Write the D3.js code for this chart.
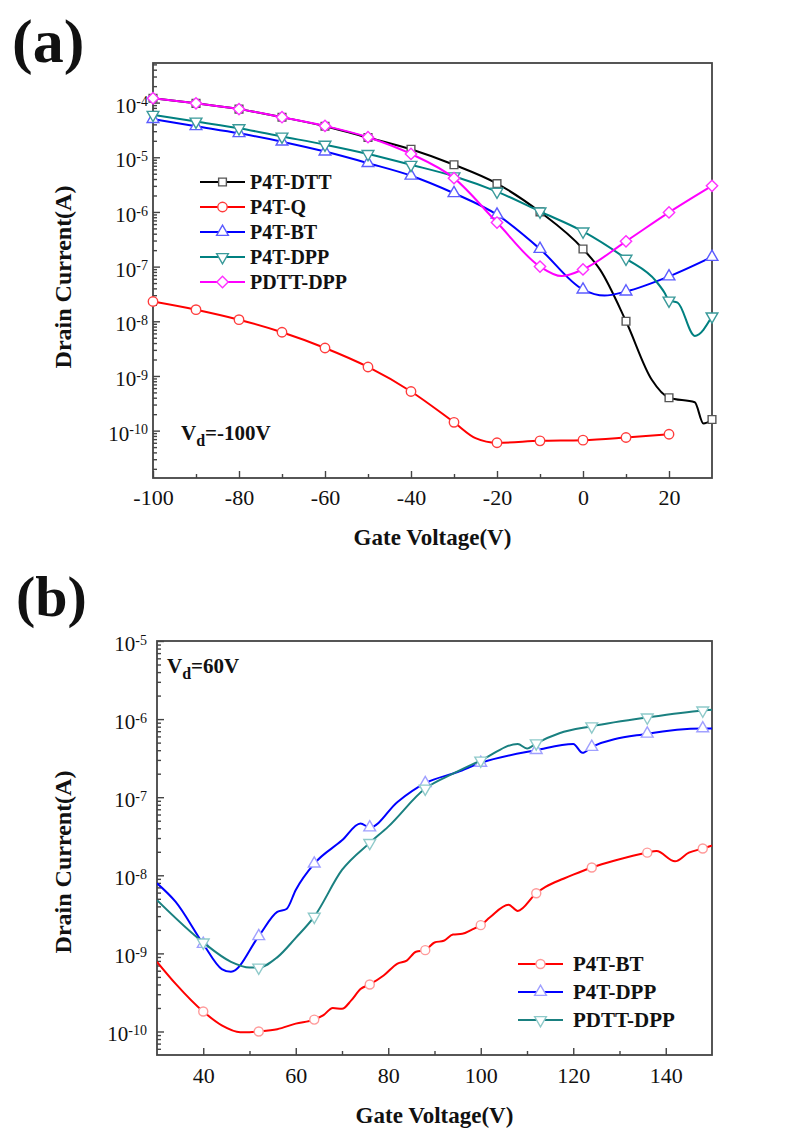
<!DOCTYPE html>
<html>
<head>
<meta charset="utf-8">
<script src="https://cdn.jsdelivr.net/npm/d3@7"></script>
<style>
  body { margin: 0; background: #fff; }
  svg text { font-family: "Liberation Serif", "Times New Roman", serif; fill: #111; }
</style>
</head>
<body>
<svg id="chart" width="809" height="1140"></svg>
<script>
// ---- Panel (a): Vd = -100 V ----
const aMarkGate = [-100, -90, -80, -70, -60, -50, -40, -30, -20, -10, 0, 10, 20, 30];

const aGate_DTT = [-100, -90, -80, -70, -60, -50, -40, -30, -20, -10, 0, 4, 10, 16, 20, 26, 28, 30];
const aCur_DTT  = [1.2e-4, 9.7e-5, 7.6e-5, 5.4e-5, 3.7e-5, 2.3e-5, 1.4e-5, 7.3e-6, 3.3e-6, 1.0e-6, 2.1e-7, 8.7e-8, 1.0e-8, 8.5e-10, 4.0e-10, 3.3e-10, 1.35e-10, 1.6e-10];

const aGate_Q = [-100, -90, -80, -70, -60, -50, -40, -30, -25, -20, -10, 0, 10, 20];
const aCur_Q  = [2.3e-8, 1.63e-8, 1.07e-8, 6.3e-9, 3.25e-9, 1.46e-9, 5.2e-10, 1.42e-10, 7.3e-11, 6.0e-11, 6.5e-11, 6.7e-11, 7.5e-11, 8.6e-11];

const aGate_BT = [-100, -90, -80, -70, -60, -50, -40, -30, -20, -10, 0, 5, 10, 20, 30];
const aCur_BT  = [5.0e-5, 3.7e-5, 2.75e-5, 1.93e-5, 1.27e-5, 7.8e-6, 4.6e-6, 2.2e-6, 8.9e-7, 2.1e-7, 3.8e-8, 2.95e-8, 3.5e-8, 6.6e-8, 1.5e-7];

const aGate_DPP = [-100, -90, -80, -70, -60, -50, -40, -30, -20, -10, 0, 10, 17, 19, 20, 22, 26, 30];
const aCur_DPP  = [6.0e-5, 4.5e-5, 3.4e-5, 2.4e-5, 1.7e-5, 1.15e-5, 7.3e-6, 4.5e-6, 2.35e-6, 1.02e-6, 4.4e-7, 1.4e-7, 5.4e-8, 3.3e-8, 2.4e-8, 2.2e-8, 5.4e-9, 1.23e-8];

const aGate_PDTT = [-100, -90, -80, -70, -60, -50, -40, -30, -20, -10, -5, 0, 10, 20, 30];
const aCur_PDTT  = [1.2e-4, 9.7e-5, 7.6e-5, 5.4e-5, 3.75e-5, 2.33e-5, 1.15e-5, 4.15e-6, 6.4e-7, 1.0e-7, 6.7e-8, 8.9e-8, 2.9e-7, 9.8e-7, 3.0e-6];

const aXTicks = [-100, -80, -60, -40, -20, 0, 20];
const aXMinor = [-90, -70, -50, -30, -10, 10];
const aYTicks = [1e-10, 1e-9, 1e-8, 1e-7, 1e-6, 1e-5, 1e-4];

// ---- Panel (b): Vd = 60 V ----
const bMarkGate = [40, 52, 64, 76, 88, 100, 112, 124, 136, 148];

const bGate_BT = [30, 34, 40, 44, 48, 50, 52, 56, 60, 64, 66, 68, 70, 72, 74, 76, 79, 82, 84, 86, 88, 90, 92, 94, 96, 98, 100, 102, 106, 108, 112, 114, 118, 120, 124, 129, 136, 138, 142, 145, 148, 150];
const bCur_BT  = [7.8e-10, 4.1e-10, 1.8e-10, 1.2e-10, 9.8e-11, 9.8e-11, 1.0e-10, 1.07e-10, 1.26e-10, 1.42e-10, 1.62e-10, 2.0e-10, 1.95e-10, 2.5e-10, 3.5e-10, 4.0e-10, 5.2e-10, 7.4e-10, 8.1e-10, 1.05e-9, 1.1e-9, 1.38e-9, 1.45e-9, 1.74e-9, 1.78e-9, 2.0e-9, 2.3e-9, 2.9e-9, 4.2e-9, 3.5e-9, 5.9e-9, 7.1e-9, 9.1e-9, 1.02e-8, 1.26e-8, 1.55e-8, 1.95e-8, 2.04e-8, 1.51e-8, 1.95e-8, 2.2e-8, 2.4e-8];

const bGate_DPP = [30, 34, 40, 44, 46, 52, 56, 58, 60, 64, 70, 74, 76, 82, 88, 95, 100, 112, 120, 122, 124, 136, 148, 150];
const bCur_DPP  = [7.9e-9, 4.6e-9, 1.32e-9, 6.3e-10, 5.8e-10, 1.66e-9, 3.4e-9, 3.7e-9, 6.5e-9, 1.41e-8, 2.8e-8, 4.6e-8, 4.1e-8, 8.7e-8, 1.51e-7, 2.1e-7, 2.75e-7, 4.0e-7, 4.8e-7, 3.7e-7, 4.4e-7, 6.5e-7, 7.6e-7, 7.6e-7];

const bGate_PDTT = [30, 40, 46, 50, 52, 56, 60, 64, 70, 76, 80, 88, 94, 100, 108, 110, 112, 117, 124, 136, 148, 150];
const bCur_PDTT  = [4.8e-9, 1.38e-9, 7.8e-10, 6.6e-10, 6.6e-10, 8.9e-10, 1.58e-9, 2.95e-9, 1.17e-8, 2.6e-8, 4.2e-8, 1.29e-7, 2.0e-7, 2.95e-7, 4.8e-7, 4.2e-7, 4.9e-7, 6.6e-7, 8.1e-7, 1.05e-6, 1.29e-6, 1.32e-6];

const bXTicks = [40, 60, 80, 100, 120, 140];
const bXMinor = [50, 70, 90, 110, 130];
const bYTicks = [1e-10, 1e-9, 1e-8, 1e-7, 1e-6, 1e-5];

const zip = (xs, ys) => xs.map((x, i) => ({ x: x, y: ys[i] }));

const svg = d3.select("#chart");

// marker shapes
function markerPath(shape, size) {
    if (shape === "circle") return d3.symbol().type(d3.symbolCircle).size(size)();
    if (shape === "up" || shape === "down") return d3.symbol().type(d3.symbolTriangle).size(size)();
    return d3.symbol().type(d3.symbolSquare).size(size)();
}
function markerRotate(shape) {
    if (shape === "down") return 180;
    if (shape === "diamond") return 45;
    return 0;
}

function minorLogTicks(domain) {
    const out = [];
    const lo = Math.floor(Math.log10(domain[0])), hi = Math.ceil(Math.log10(domain[1]));
    for (let k = lo; k <= hi; k++) {
        for (let m = 2; m <= 9; m++) {
            const v = m * Math.pow(10, k);
            if (v > domain[0] && v < domain[1]) out.push(v);
        }
    }
    return out;
}

function drawPanel(cfg) {
    const g = svg.append("g");
    const x = d3.scaleLinear().domain(cfg.xDomain).range([cfg.left, cfg.right]);
    const y = d3.scaleLog().domain(cfg.yDomain).range([cfg.bottom, cfg.top]);

    // ---- minor ticks ----
    g.append("g")
        .attr("transform", `translate(0,${cfg.bottom})`)
        .call(d3.axisBottom(x).tickValues(cfg.xMinor).tickSizeInner(-4).tickSizeOuter(0).tickFormat(""))
        .call(a => a.select(".domain").remove());
    g.append("g")
        .attr("transform", `translate(${cfg.left},0)`)
        .call(d3.axisLeft(y).tickValues(minorLogTicks(cfg.yDomain)).tickSizeInner(-4).tickSizeOuter(0).tickFormat(""))
        .call(a => a.select(".domain").remove());

    // ---- major ticks + labels ----
    g.append("g")
        .attr("transform", `translate(0,${cfg.bottom})`)
        .call(d3.axisBottom(x).tickValues(cfg.xTicks).tickSizeInner(-7).tickSizeOuter(0)
            .tickPadding(cfg.xPad).tickFormat(d => String(d)))
        .call(a => a.select(".domain").remove())
        .call(a => a.selectAll("text").attr("font-size", 22).attr("fill", "#222"));

    g.append("g")
        .attr("transform", `translate(${cfg.left},0)`)
        .call(d3.axisLeft(y).tickValues(cfg.yTicks).tickSizeInner(-7).tickSizeOuter(0)
            .tickPadding(cfg.yPad).tickFormat(""))
        .call(a => a.select(".domain").remove())
        .call(a => a.selectAll("text")
            .attr("font-size", 21).attr("fill", "#222").attr("dy", "0.45em")
            .each(function (d) {
                const t = d3.select(this);
                t.append("tspan").text("10");
                t.append("tspan").attr("dy", "-0.45em").attr("font-size", 14)
                    .text(String(Math.round(Math.log10(d))));
            }));

    g.selectAll(".tick line").attr("stroke", "#444").attr("stroke-width", 1.4);

    // ---- frame ----
    g.append("rect")
        .attr("x", cfg.left).attr("y", cfg.top)
        .attr("width", cfg.right - cfg.left).attr("height", cfg.bottom - cfg.top)
        .attr("fill", "none").attr("stroke", "#444").attr("stroke-width", 1.8);

    // ---- series ----
    const clipId = "clip-" + cfg.name;
    g.append("clipPath").attr("id", clipId).append("rect")
        .attr("x", cfg.left).attr("y", cfg.top)
        .attr("width", cfg.right - cfg.left).attr("height", cfg.bottom - cfg.top);

    const line = d3.line().x(d => x(d.x)).y(d => y(d.y)).curve(d3.curveMonotoneX);
    const marks = new Set(cfg.markX);

    cfg.series.forEach(s => {
        g.append("path")
            .datum(s.data)
            .attr("clip-path", `url(#${clipId})`)
            .attr("fill", "none")
            .attr("stroke", s.color)
            .attr("stroke-width", 2)
            .attr("d", line);

        g.append("g").selectAll("path")
            .data(s.data.filter(d => marks.has(d.x)))
            .join("path")
            .attr("d", markerPath(s.shape, s.size))
            .attr("transform", d => `translate(${x(d.x)},${y(d.y)}) rotate(${markerRotate(s.shape)})`)
            .attr("fill", "#fff")
            .attr("stroke", s.mark)
            .attr("stroke-width", 1.4);
    });

    // ---- legend ----
    const leg = g.append("g");
    cfg.series.forEach((s, i) => {
        const ly = cfg.legY + i * cfg.legStep;
        leg.append("line")
            .attr("x1", cfg.legX).attr("x2", cfg.legX + 45)
            .attr("y1", ly).attr("y2", ly)
            .attr("stroke", s.color).attr("stroke-width", 2);
        leg.append("path")
            .attr("d", markerPath(s.shape, s.size))
            .attr("transform", `translate(${cfg.legX + 22.5},${ly}) rotate(${markerRotate(s.shape)})`)
            .attr("fill", "#fff").attr("stroke", s.mark).attr("stroke-width", 1.4);
        leg.append("text")
            .attr("x", cfg.legX + cfg.legTextGap).attr("y", ly + 7)
            .attr("font-size", cfg.legFont).attr("font-weight", "bold")
            .text(s.name);
    });

    // ---- axis titles ----
    g.append("text")
        .attr("x", (cfg.left + cfg.right) / 2).attr("y", cfg.xTitleY)
        .attr("text-anchor", "middle").attr("font-size", 23).attr("font-weight", "bold")
        .text("Gate Voltage(V)");
    g.append("text")
        .attr("transform", `translate(${cfg.yTitleX},${cfg.yTitleY}) rotate(-90)`)
        .attr("text-anchor", "middle").attr("font-size", 24).attr("font-weight", "bold")
        .text("Drain Current(A)");

    // ---- Vd annotation ----
    const vd = g.append("text")
        .attr("x", cfg.vdX).attr("y", cfg.vdY)
        .attr("font-size", 21).attr("font-weight", "bold");
    vd.append("tspan").text("V");
    vd.append("tspan").attr("font-size", 16).attr("dy", 6).text("d");
    vd.append("tspan").attr("dy", -6).text(cfg.vdText);

    // ---- panel letter ----
    g.append("text")
        .attr("x", cfg.tagX).attr("y", cfg.tagY)
        .attr("font-size", cfg.tagSize).attr("font-weight", "bold")
        .text(cfg.tag);
}

drawPanel({
    name: "a", tag: "(a)", tagX: 12, tagY: 62, tagSize: 62,
    left: 153, right: 712, top: 63, bottom: 478,
    xDomain: [-100, 30], yDomain: [1.36e-11, 5.3e-4],
    xTicks: aXTicks, xMinor: aXMinor, yTicks: aYTicks,
    xPad: 11, yPad: 5,
    markX: aMarkGate,
    series: [
        { name: "P4T-DTT",  color: "#000000", mark: "#555555", shape: "square",  size: 60, data: zip(aGate_DTT, aCur_DTT) },
        { name: "P4T-Q",    color: "#ff0000", mark: "#ff3c3c", shape: "circle",  size: 70, data: zip(aGate_Q, aCur_Q) },
        { name: "P4T-BT",   color: "#0000ff", mark: "#5c5cff", shape: "up",      size: 60, data: zip(aGate_BT, aCur_BT) },
        { name: "P4T-DPP",  color: "#008080", mark: "#3a9a9a", shape: "down",    size: 60, data: zip(aGate_DPP, aCur_DPP) },
        { name: "PDTT-DPP", color: "#ff00ff", mark: "#ff30ff", shape: "diamond", size: 64, data: zip(aGate_PDTT, aCur_PDTT) }
    ],
    legX: 200, legY: 182, legStep: 25, legFont: 20, legTextGap: 50,
    xTitleY: 545, yTitleX: 71, yTitleY: 277,
    vdX: 181, vdY: 440, vdText: "=-100V"
});

drawPanel({
    name: "b", tag: "(b)", tagX: 16, tagY: 616, tagSize: 58,
    left: 157, right: 712, top: 641, bottom: 1055,
    xDomain: [30, 150], yDomain: [5e-11, 1e-5],
    xTicks: bXTicks, xMinor: bXMinor, yTicks: bYTicks,
    xPad: 12, yPad: 10,
    markX: bMarkGate,
    series: [
        { name: "P4T-BT",   color: "#ff0000", mark: "#ff9a9a", shape: "circle", size: 64, data: zip(bGate_BT, bCur_BT) },
        { name: "P4T-DPP",  color: "#0000ff", mark: "#a0a0ff", shape: "up",     size: 60, data: zip(bGate_DPP, bCur_DPP) },
        { name: "PDTT-DPP", color: "#1a8080", mark: "#8fcaca", shape: "down",   size: 60, data: zip(bGate_PDTT, bCur_PDTT) }
    ],
    legX: 518, legY: 964, legStep: 28, legFont: 21, legTextGap: 55,
    xTitleY: 1123, yTitleX: 71, yTitleY: 862,
    vdX: 167, vdY: 673, vdText: "=60V"
});
</script>
</body>
</html>
